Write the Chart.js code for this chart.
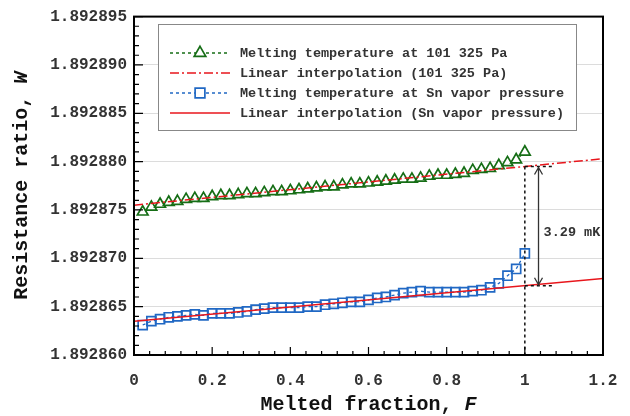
<!DOCTYPE html>
<html>
<head>
<meta charset="utf-8">
<script src="https://cdn.jsdelivr.net/npm/chart.js@4.4.1/dist/chart.umd.min.js"></script>
<style>
  html, body { margin: 0; padding: 0; background: #fff; }
</style>
</head>
<body>
<canvas id="grafico" width="630" height="416"></canvas>
<script>
// melted fraction of each plateau point
var fraction = [0.0222, 0.0444, 0.0667, 0.0889, 0.1111, 0.1333, 0.1556, 0.1778, 0.2, 0.2222,
                0.2444, 0.2667, 0.2889, 0.3111, 0.3333, 0.3556, 0.3778, 0.4, 0.4222, 0.4444,
                0.4667, 0.4889, 0.5111, 0.5333, 0.5556, 0.5778, 0.6, 0.6222, 0.6444, 0.6667,
                0.6889, 0.7111, 0.7333, 0.7556, 0.7778, 0.8, 0.8222, 0.8444, 0.8667, 0.8889,
                0.9111, 0.9333, 0.9556, 0.9778, 1.0];

// resistance ratio W at 101 325 Pa
var wAtm = [1.8928748, 1.8928753, 1.8928756, 1.8928758, 1.8928759, 1.8928761, 1.8928762, 1.8928762, 1.8928764, 1.8928765,
            1.8928765, 1.8928766, 1.8928767, 1.8928767, 1.8928768, 1.8928769, 1.8928769, 1.8928770, 1.8928771, 1.8928772,
            1.8928773, 1.8928774, 1.8928774, 1.8928776, 1.8928777, 1.8928777, 1.8928778, 1.8928779, 1.8928780, 1.8928781,
            1.8928782, 1.8928782, 1.8928783, 1.8928785, 1.8928786, 1.8928786, 1.8928787, 1.8928788, 1.8928791, 1.8928792,
            1.8928793, 1.8928796, 1.8928799, 1.8928802, 1.8928810];

// resistance ratio W at Sn vapor pressure
var wVap = [1.8928631, 1.8928635, 1.8928637, 1.8928639, 1.8928640, 1.8928641, 1.8928642, 1.8928641, 1.8928643, 1.8928643,
            1.8928643, 1.8928644, 1.8928645, 1.8928647, 1.8928648, 1.8928649, 1.8928649, 1.8928649, 1.8928649, 1.8928650,
            1.8928650, 1.8928652, 1.8928653, 1.8928654, 1.8928655, 1.8928655, 1.8928657, 1.8928659, 1.8928660, 1.8928662,
            1.8928664, 1.8928665, 1.8928666, 1.8928665, 1.8928665, 1.8928665, 1.8928665, 1.8928665, 1.8928666, 1.8928667,
            1.8928670, 1.8928674, 1.8928682, 1.8928689, 1.8928705];

// linear fits, end points at F = 0 and F = 1.2
var fitF = [0, 1.2];
var fitAtm = [1.8928755, 1.8928803];
var fitVap = [1.8928635, 1.8928679];

var ticksF = [0, 0.2, 0.4, 0.6, 0.8, 1, 1.2];
var ticksW = [1.89286, 1.892865, 1.89287, 1.892875, 1.89288, 1.892885, 1.89289, 1.892895];

var names = ["Melting temperature at 101 325 Pa",
             "Linear interpolation (101 325 Pa)",
             "Melting temperature at Sn vapor pressure",
             "Linear interpolation (Sn vapor pressure)"];

var gapText = "3.29 mK";
var gapF = 1.035;       // where the arrow sits
var gapTextF = 1.048;
var gapTextW = 1.8928727;

var green = "rgb(22,110,22)";
var red = "rgb(232,22,28)";
var blue = "rgb(32,104,196)";
var mono = "'Liberation Mono', 'Courier New', monospace";

function pts(xs, ys) {
    var out = [];
    for (var i = 0; i < xs.length; i++) out.push({x: xs[i], y: ys[i]});
    return out;
}

// value of a two-point fit at F
function fitAt(ys, f) {
    return ys[0] + (ys[1] - ys[0]) * (f - fitF[0]) / (fitF[1] - fitF[0]);
}

var frame = {
    id: "frame",
    afterDatasetsDraw: function(chart) {
        var ctx = chart.ctx, a = chart.chartArea;
        var xs = chart.scales.x, ys = chart.scales.y;
        ctx.save();

        // 3.29 mK gap marker at F = 1
        var x1 = xs.getPixelForValue(1);
        var yTop = ys.getPixelForValue(fitAt(fitAtm, 1));
        var yBot = ys.getPixelForValue(fitAt(fitVap, 1));
        var xEnd = xs.getPixelForValue(1.07);
        ctx.strokeStyle = "#111";
        ctx.lineWidth = 1.5;
        ctx.setLineDash([3, 3]);
        ctx.beginPath();
        ctx.moveTo(x1, yTop); ctx.lineTo(x1, a.bottom);
        ctx.moveTo(x1, yTop); ctx.lineTo(xEnd, yTop);
        ctx.moveTo(x1, yBot); ctx.lineTo(xEnd, yBot);
        ctx.stroke();
        ctx.setLineDash([]);

        var xa = xs.getPixelForValue(gapF);
        ctx.strokeStyle = "#333";
        ctx.lineWidth = 1.3;
        ctx.beginPath();
        ctx.moveTo(xa, yTop + 1); ctx.lineTo(xa, yBot - 1);
        ctx.moveTo(xa - 4, yTop + 8); ctx.lineTo(xa, yTop + 1); ctx.lineTo(xa + 4, yTop + 8);
        ctx.moveTo(xa - 4, yBot - 8); ctx.lineTo(xa, yBot - 1); ctx.lineTo(xa + 4, yBot - 8);
        ctx.stroke();

        ctx.fillStyle = "#333";
        ctx.font = "bold 13.5px " + mono;
        ctx.textAlign = "left";
        ctx.textBaseline = "middle";
        ctx.fillText(gapText, xs.getPixelForValue(gapTextF), ys.getPixelForValue(gapTextW));

        // ticks pointing inward, minor every 1e-6 and 0.04
        ctx.strokeStyle = "#000";
        ctx.lineWidth = 1.2;
        ctx.beginPath();
        for (var i = 0; i <= 35; i++) {
            var y = ys.getPixelForValue(ticksW[0] + i * 1e-6);
            var len = (i % 5 === 0) ? 9 : 5;
            ctx.moveTo(a.left, y); ctx.lineTo(a.left + len, y);
        }
        for (var j = 0; j <= 30; j++) {
            var x = xs.getPixelForValue(j * 0.04);
            var l2 = (j % 5 === 0) ? 8 : 4;
            ctx.moveTo(x, a.bottom); ctx.lineTo(x, a.bottom - l2);
        }
        ctx.stroke();

        ctx.lineWidth = 2;
        ctx.strokeRect(a.left, a.top, a.right - a.left, a.bottom - a.top);
        ctx.restore();
    },
    afterDraw: function(chart) {
        var ctx = chart.ctx, a = chart.chartArea;
        var sets = chart.data.datasets;
        ctx.save();

        // legend box
        var bx = 158, by = 24, bw = 418, bh = 106;
        ctx.fillStyle = "#fff";
        ctx.fillRect(bx, by, bw, bh);
        ctx.strokeStyle = "#888";
        ctx.lineWidth = 1;
        ctx.strokeRect(bx + 0.5, by + 0.5, bw, bh);

        ctx.font = "bold 13.5px " + mono;
        ctx.textBaseline = "middle";
        ctx.textAlign = "left";
        for (var i = 0; i < sets.length; i++) {
            var ds = sets[i];
            var ry = 53 + i * 20;
            ctx.strokeStyle = ds.borderColor;
            ctx.lineWidth = ds.borderWidth;
            ctx.setLineDash(ds.borderDash || []);
            ctx.beginPath();
            ctx.moveTo(170, ry); ctx.lineTo(230, ry);
            ctx.stroke();
            ctx.setLineDash([]);
            if (ds.pointRadius > 0) {
                ctx.fillStyle = "#fff";
                ctx.strokeStyle = ds.pointBorderColor;
                ctx.lineWidth = ds.pointBorderWidth;
                Chart.helpers.drawPoint(ctx, {pointStyle: ds.pointStyle, radius: ds.pointRadius + 0.5, rotation: 0, borderWidth: ds.pointBorderWidth}, 200, ry);
            }
            ctx.fillStyle = "#333";
            ctx.fillText(ds.label, 240, ry + 1);
        }

        // axis titles with the italic symbol
        function title(txt, sym, cx, cy, rot) {
            ctx.save();
            ctx.translate(cx, cy);
            ctx.rotate(rot);
            ctx.fillStyle = "#111";
            ctx.textBaseline = "middle";
            ctx.font = "bold 20px " + mono;
            var w1 = ctx.measureText(txt).width;
            ctx.font = "italic bold 20px " + mono;
            var w2 = ctx.measureText(sym).width;
            var x0 = -(w1 + w2) / 2;
            ctx.font = "bold 20px " + mono;
            ctx.fillText(txt, x0, 0);
            ctx.font = "italic bold 20px " + mono;
            ctx.fillText(sym, x0 + w1, 0);
            ctx.restore();
        }
        title("Melted fraction, ", "F", (a.left + a.right) / 2, 405, 0);
        title("Resistance ratio, ", "W", 22, (a.top + a.bottom) / 2, -Math.PI / 2);
        ctx.restore();
    }
};

var ctx = document.getElementById("grafico");

var chartGraph = new Chart(ctx, {
    type: "scatter",
    data: {
        datasets: [
            {
                label: names[0],
                data: pts(fraction, wAtm),
                showLine: true,
                borderColor: green,
                borderWidth: 1.3,
                borderDash: [3, 3],
                pointStyle: "triangle",
                pointRadius: 6.2,
                pointBorderWidth: 1.7,
                pointBorderColor: green,
                pointBackgroundColor: "#fff",
                order: 3
            }, {
                label: names[1],
                data: pts(fitF, fitAtm),
                showLine: true,
                borderColor: red,
                borderWidth: 1.5,
                borderDash: [9, 3, 2, 3],
                pointRadius: 0,
                order: 1
            }, {
                label: names[2],
                data: pts(fraction, wVap),
                showLine: true,
                borderColor: blue,
                borderWidth: 1.3,
                borderDash: [3, 3],
                pointStyle: "rect",
                pointRadius: 6.4,
                pointBorderWidth: 1.7,
                pointBorderColor: blue,
                pointBackgroundColor: "rgba(255,255,255,0)",
                order: 4
            }, {
                label: names[3],
                data: pts(fitF, fitVap),
                showLine: true,
                borderColor: red,
                borderWidth: 1.5,
                pointRadius: 0,
                order: 2
            }]
    },
    options: {
        responsive: false,
        animation: false,
        devicePixelRatio: 1,
        layout: { padding: { top: 12, right: 27, left: 0, bottom: 0 } },
        plugins: {
            legend: { display: false },
            tooltip: { enabled: false }
        },
        scales: {
            x: {
                type: "linear",
                min: 0,
                max: 1.2,
                afterBuildTicks: function(s) { s.ticks = ticksF.map(function(v) { return {value: v}; }); },
                afterFit: function(s) { s.height = 61; },
                ticks: {
                    autoSkip: false,
                    maxRotation: 0,
                    padding: 8,
                    color: "#333",
                    font: { family: mono, size: 16, weight: "bold" },
                    callback: function(v) { return String(v); }
                },
                grid: { display: false },
                border: { display: false }
            },
            y: {
                type: "linear",
                min: 1.89286,
                max: 1.892895,
                afterBuildTicks: function(s) { s.ticks = ticksW.map(function(v) { return {value: v}; }); },
                afterFit: function(s) { s.width = 134; },
                ticks: {
                    padding: 7,
                    color: "#333",
                    font: { family: mono, size: 16, weight: "bold" },
                    callback: function(v) { return v.toFixed(6); }
                },
                grid: { color: "#dcdcdc", lineWidth: 1, drawTicks: false },
                border: { display: false }
            }
        }
    },
    plugins: [frame]
});
</script>
</body>
</html>
